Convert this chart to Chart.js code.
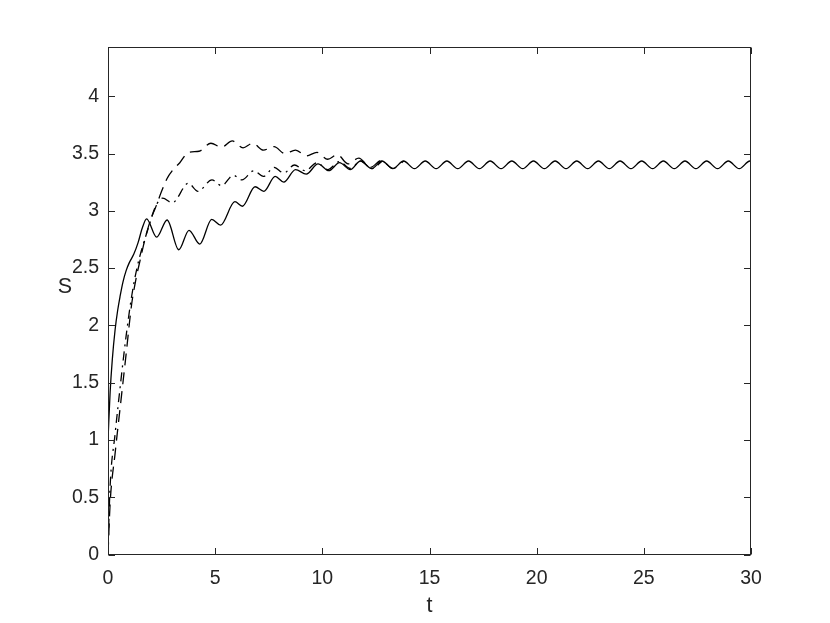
<!DOCTYPE html>
<html>
<head>
<meta charset="utf-8">
<script src="https://cdn.jsdelivr.net/npm/chart.js@4.4.1/dist/chart.umd.min.js"></script>
<style>
html,body{margin:0;padding:0;background:#fff;}
#wrap{width:830px;height:623px;}
</style>
</head>
<body>
<div id="wrap"><canvas id="c" width="830" height="623"></canvas></div>
<script>
// ---- data ----
const tSolid = [0,0.1,0.2,0.33,0.45,0.56,0.7,0.85,1.0,1.2,1.4,1.6,1.8,2.27,2.76,3.3,3.78,4.28,4.84,5.25,5.92,6.27,6.86,7.27,7.8,8.2,8.75,9.25,9.8,10.3,10.8,11.3,11.78,12.3,12.78,13.29,13.79,14.3,14.8,15.31,15.81,16.32,16.82,17.33,17.83,18.34,18.84,19.35,19.85,20.36,20.86,21.37,21.87,22.38,22.88,23.39,23.89,24.4,24.9,25.41,25.91,26.42,26.92,27.43,27.93,28.44,28.94,29.45,29.95,30];
const sSolid = [1.0,1.42,1.70,1.96,2.13,2.25,2.38,2.48,2.55,2.62,2.72,2.85,2.93,2.77,2.92,2.66,2.83,2.71,2.925,2.875,3.08,3.04,3.21,3.17,3.30,3.25,3.36,3.32,3.41,3.35,3.42,3.36,3.435,3.368,3.435,3.368,3.435,3.368,3.435,3.368,3.435,3.368,3.435,3.368,3.435,3.368,3.435,3.368,3.435,3.368,3.435,3.368,3.435,3.368,3.435,3.368,3.435,3.368,3.435,3.368,3.435,3.368,3.435,3.368,3.435,3.368,3.435,3.368,3.435,3.434];

const tDashed = [0,0.1,0.33,0.59,0.84,1.1,1.3,1.5,1.75,2.0,2.2,2.5,2.75,3.0,3.35,3.75,4.25,4.8,5.3,5.8,6.3,6.75,7.25,7.75,8.25,8.75,9.25,9.75,10.25,10.7,11.2,11.7,12.25,12.75,13.3,13.8];
const sDashed = [0.0,0.45,0.88,1.32,1.74,2.18,2.40,2.57,2.77,2.93,3.02,3.17,3.28,3.35,3.42,3.51,3.52,3.59,3.555,3.61,3.55,3.59,3.53,3.56,3.50,3.53,3.48,3.51,3.45,3.49,3.41,3.46,3.38,3.44,3.37,3.435];

const tDashDot = [0,0.1,0.33,0.59,0.84,1.1,1.35,1.6,1.9,2.2,2.55,3.0,3.75,4.2,4.85,5.3,5.85,6.25,6.8,7.25,7.75,8.2,8.7,9.2,9.75,10.25,10.8,11.3,11.8,12.3,12.8];
const sDashDot = [0.05,0.6,1.05,1.5,1.9,2.25,2.5,2.68,2.86,3.03,3.11,3.07,3.24,3.17,3.27,3.22,3.31,3.27,3.35,3.30,3.38,3.33,3.40,3.35,3.42,3.36,3.43,3.37,3.435,3.368,3.435];

const xTicks = [0,5,10,15,20,25,30];
const xTickLabels = ['0','5','10','15','20','25','30'];
const yTicks = [0,0.5,1,1.5,2,2.5,3,3.5,4];
const yTickLabels = ['0','0.5','1','1.5','2','2.5','3','3.5','4'];
const xTitle = 't';
const yTitle = 'S';

function pairs(ts, ss){ return ts.map((t,i)=>({x:t,y:ss[i]})); }

const FONT = '"Liberation Sans", Arial, Helvetica, sans-serif';
const AXC = '#262626';

const boxPlugin = {
  id:'box',
  afterDraw(chart){
    const {ctx, chartArea:a, scales:{x,y}} = chart;
    ctx.save();
    ctx.strokeStyle = AXC;
    ctx.lineWidth = 1;
    const L = Math.round(a.left)+0.5, R = Math.round(a.right)-0.5, T = Math.round(a.top)+0.5, B = Math.round(a.bottom)-0.5;
    ctx.strokeRect(L, T, R-L, B-T);
    const tl = 6.5;
    ctx.beginPath();
    x.ticks.forEach(t=>{
      const px = Math.round(x.getPixelForValue(t.value))+0.5;
      ctx.moveTo(px,B); ctx.lineTo(px,B-tl);
      ctx.moveTo(px,T); ctx.lineTo(px,T+tl);
    });
    y.ticks.forEach(t=>{
      const py = Math.round(y.getPixelForValue(t.value))+0.5;
      ctx.moveTo(L,py); ctx.lineTo(L+tl,py);
      ctx.moveTo(R,py); ctx.lineTo(R-tl,py);
    });
    ctx.stroke();
    ctx.fillStyle = AXC;
    ctx.font = '21.5px ' + FONT;
    ctx.textAlign = 'center';
    ctx.textBaseline = 'middle';
    ctx.fillText(xTitle, (a.left+a.right)/2, 606);
    ctx.fillText(yTitle, 65, 287);
    ctx.restore();
  }
};

new Chart(document.getElementById('c'), {
  type:'line',
  data:{
    datasets:[
      {data:pairs(tSolid,sSolid), borderColor:'#000', borderWidth:1.3, pointRadius:0, cubicInterpolationMode:'monotone', fill:false},
      {data:pairs(tDashed,sDashed), borderColor:'#000', borderWidth:1.3, borderDash:[12,7], pointRadius:0, cubicInterpolationMode:'monotone', fill:false},
      {data:pairs(tDashDot,sDashDot), borderColor:'#000', borderWidth:1.3, borderDash:[9,5,2,5], pointRadius:0, cubicInterpolationMode:'monotone', fill:false}
    ]
  },
  options:{
    responsive:false,
    animation:false,
    devicePixelRatio:1,
    layout:{padding:{left:0,right:79,top:47,bottom:0}},
    plugins:{legend:{display:false}, tooltip:{enabled:false}},
    scales:{
      x:{
        type:'linear', min:0, max:30,
        afterBuildTicks(s){ s.ticks = xTicks.map(v=>({value:v})); },
        afterFit(s){ s.height = 68.5; },
        grid:{display:false, drawTicks:false},
        border:{display:false},
        ticks:{padding:12, color:AXC, font:{family:FONT, size:19.5}, maxRotation:0,
          callback:(v)=>{ const i = xTicks.indexOf(v); return i>=0 ? xTickLabels[i] : ''; }}
      },
      y:{
        type:'linear', min:0, max:4.43,
        afterBuildTicks(s){ s.ticks = yTicks.map(v=>({value:v})); },
        afterFit(s){ s.width = 108; },
        grid:{display:false, drawTicks:false},
        border:{display:false},
        ticks:{padding:9, color:AXC, font:{family:FONT, size:19.5},
          callback:(v)=>{ const i = yTicks.indexOf(v); return i>=0 ? yTickLabels[i] : ''; }}
      }
    }
  },
  plugins:[boxPlugin]
});
</script>
</body>
</html>
